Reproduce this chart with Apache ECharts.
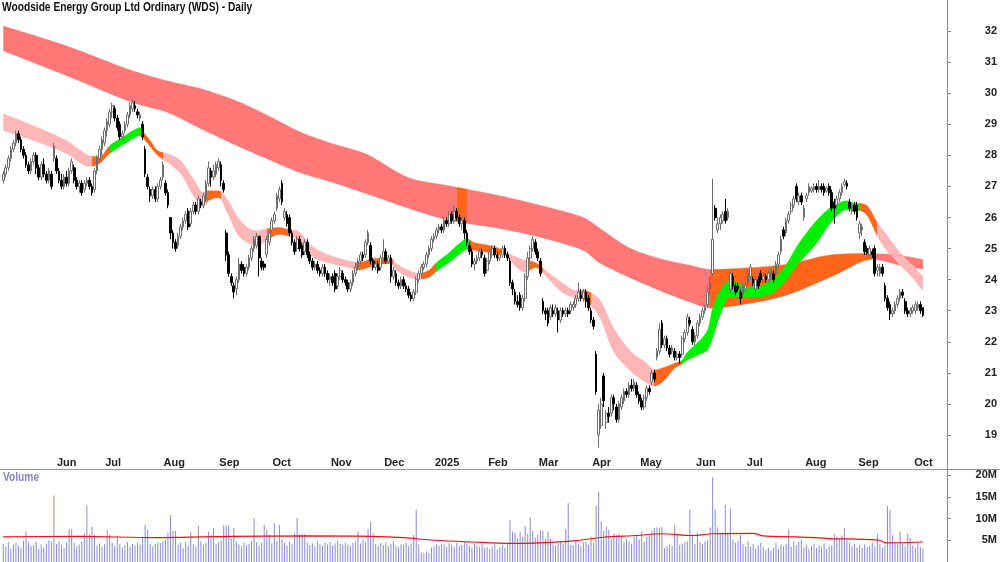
<!DOCTYPE html>
<html>
<head>
<meta charset="utf-8">
<title>WDS Daily</title>
<script src="https://cdn.jsdelivr.net/npm/echarts@6/dist/echarts.min.js"></script>
<style>
html, body { margin: 0; padding: 0; background: #fff; }
#wdschart { width: 1000px; height: 562px; }
</style>
</head>
<body>
<div id="wdschart"></div>
<script>
"use strict";

// ---- data ----
var firstDay = '2024-05-06';
var holidays = ['2024-06-10', '2024-12-25', '2024-12-26', '2025-01-01', '2025-01-27',
    '2025-04-18', '2025-04-21', '2025-04-25', '2025-06-09'];
var padDays = 9; // empty slots right of the last candle

// [open, close, low, high]
var candles = [
    [27.2,27.4,27.1,27.5],[27.4,27.6,27.3,27.7],[27.6,27.9,27.5,28.0],[27.9,28.2,27.8,28.3],[28.2,28.4,28.1,28.5],
    [28.4,28.7,28.3,28.8],[28.7,28.5,28.4,28.8],[28.5,28.2,28.1,28.6],[28.2,28.0,27.9,28.3],[28.0,27.7,27.6,28.1],
    [27.7,27.5,27.4,27.8],[27.5,27.8,27.4,27.9],[27.8,28.0,27.7,28.1],[28.0,27.6,27.4,28.1],[27.6,27.3,27.2,27.7],
    [27.3,27.7,27.2,27.8],[27.7,27.4,27.3,27.9],[27.4,27.2,27.1,27.5],[27.2,27.5,27.1,27.6],[27.4,27.0,26.9,27.5],
    [27.9,28.3,27.8,28.4],[27.9,27.5,27.4,28.0],[27.5,27.2,27.1,27.6],[27.2,27.0,26.9,27.4],[27.0,27.3,26.9,27.4],
    [27.3,27.1,27.0,27.5],[27.1,27.5,27.0,27.6],[27.5,27.8,27.4,27.9],[27.6,27.2,27.1,27.7],[27.2,27.0,26.9,27.3],
    [27.0,27.1,26.8,27.2],[27.1,26.8,26.7,27.2],[26.9,27.1,26.8,27.2],[27.1,27.2,27.0,27.3],[27.2,27.0,26.9,27.3],
    [27.0,26.8,26.7,27.1],[26.9,27.5,26.8,27.6],[27.5,27.9,27.4,28.0],[27.9,28.2,27.8,28.3],[28.2,28.5,28.0,28.6],
    [28.4,28.8,28.3,28.9],[28.8,29.1,28.6,29.2],[29.0,29.4,28.9,29.5],[29.4,29.6,29.2,29.7],[29.5,29.2,29.1,29.6],
    [29.2,28.9,28.8,29.3],[29.0,28.6,28.5,29.1],[28.6,28.7,28.5,28.8],[28.8,29.0,28.7,29.1],[29.0,29.3,28.9,29.4],
    [29.3,29.6,29.2,29.7],[29.5,29.7,29.4,29.8],[29.6,29.5,29.4,29.75],[29.4,29.3,29.2,29.5],[29.2,29.3,29.1,29.4],
    [29.0,28.6,28.5,29.1],[28.2,27.4,27.3,28.3],[27.3,27.0,26.9,27.4],[26.9,26.7,26.5,27.0],[26.7,26.9,26.6,27.0],
    [26.9,26.6,26.5,27.0],[26.6,27.0,26.5,27.1],[27.0,27.2,26.9,27.3],[27.3,27.7,27.2,27.8],[27.1,26.8,26.7,27.2],
    [26.8,26.4,26.3,26.9],[26.0,25.5,25.3,26.0],[25.5,25.2,25.0,25.6],[25.2,25.0,24.9,25.3],[25.1,25.4,25.0,25.5],
    [25.4,25.7,25.3,25.8],[25.7,25.9,25.6,26.0],[25.9,26.1,25.8,26.2],[26.2,25.7,25.6,26.3],[25.8,26.2,25.7,26.3],
    [26.2,26.4,26.1,26.5],[26.4,26.2,26.1,26.5],[26.2,26.6,26.1,26.7],[26.5,26.4,26.3,26.6],[26.4,26.7,26.3,26.8],
    [26.6,27.1,26.5,27.2],[27.1,27.6,27.0,27.8],[27.5,27.3,27.0,27.6],[27.3,27.5,27.2,27.7],[27.4,27.7,27.3,27.8],
    [27.6,27.8,27.5,27.9],[27.7,27.2,27.0,27.8],[27.1,26.9,26.8,27.2],[25.5,24.8,24.6,25.6],[24.8,24.2,24.1,24.9],
    [24.1,23.9,23.8,24.2],[23.8,23.6,23.4,23.9],[23.7,24.0,23.5,24.1],[24.0,24.5,23.9,24.7],[24.5,24.3,24.2,24.6],
    [24.4,24.2,24.1,24.5],[24.2,24.4,24.1,24.5],[24.4,24.7,24.3,24.8],[24.7,25.0,24.6,25.1],[25.0,25.3,24.9,25.4],
    [25.1,25.4,25.0,25.5],[25.4,24.7,24.1,25.4],[24.6,24.4,24.3,24.7],[24.5,24.4,24.3,24.6],[24.8,25.3,24.7,25.4],
    [25.2,25.5,25.1,25.6],[25.6,25.9,25.5,26.0],[25.9,26.1,25.8,26.2],[26.3,26.7,26.2,26.8],[26.6,26.9,26.5,27.0],
    [27.1,26.5,26.4,27.2],[26.0,26.2,25.9,26.3],[26.1,25.8,25.7,26.2],[26.0,25.5,25.4,26.1],[25.5,25.2,25.1,25.6],
    [25.2,24.9,24.8,25.3],[25.0,25.3,24.9,25.4],[25.3,25.0,24.9,25.4],[25.1,24.8,24.7,25.2],[24.9,25.2,24.8,25.3],
    [25.2,24.8,24.7,25.3],[24.8,24.6,24.5,24.9],[24.6,24.4,24.3,24.7],[24.4,24.5,24.3,24.6],[24.5,24.3,24.2,24.6],
    [24.3,24.2,24.1,24.4],[24.2,24.4,24.1,24.5],[24.4,24.2,24.1,24.5],[24.2,24.0,23.9,24.3],[24.0,24.1,23.8,24.2],
    [24.1,23.9,23.8,24.2],[24.2,23.7,23.6,24.3],[23.8,24.1,23.7,24.2],[24.1,24.3,24.0,24.4],[24.2,24.0,23.9,24.3],
    [24.0,23.9,23.8,24.1],[23.9,23.7,23.6,24.0],[23.7,23.9,23.6,24.0],[23.9,24.2,23.8,24.3],[24.2,24.4,24.1,24.5],
    [24.4,24.6,24.3,24.7],[24.6,24.8,24.5,24.9],[24.8,24.7,24.6,24.9],[24.8,25.2,24.7,25.3],[25.2,25.5,25.1,25.6],
    [25.1,24.6,24.5,25.2],[24.6,24.4,24.3,24.7],[24.4,24.5,24.3,24.6],[24.5,24.3,24.2,24.6],[24.4,24.7,24.3,24.8],
    [24.7,24.9,24.6,25.3],[24.9,24.6,24.5,25.0],[24.6,24.7,24.5,24.8],[24.7,24.1,23.9,24.8],[24.1,24.3,24.0,24.4],
    [24.2,23.9,23.8,24.3],[23.9,23.8,23.7,24.0],[23.8,24.0,23.7,24.1],[24.0,23.8,23.7,24.1],[23.8,23.7,23.6,23.9],
    [23.7,23.5,23.4,23.8],[23.5,23.4,23.3,23.6],[23.4,23.6,23.3,23.7],[23.6,24.0,23.5,24.1],[24.0,24.2,23.9,24.3],
    [24.2,24.4,24.1,24.5],[24.4,24.5,24.3,24.6],[24.5,24.8,24.4,24.9],[24.8,25.0,24.7,25.1],[25.0,25.3,24.9,25.4],
    [25.3,25.4,25.2,25.5],[25.4,25.6,25.3,25.7],[25.6,25.7,25.5,25.8],[25.7,25.6,25.5,25.8],[25.6,25.9,25.5,26.0],
    [25.9,25.8,25.7,26.0],[25.8,26.1,25.7,26.2],[26.1,25.9,25.8,26.2],[25.9,26.2,25.8,26.4],[26.2,26.0,25.9,26.3],
    [26.0,25.8,25.7,26.1],[25.8,25.9,25.6,26.0],[25.9,25.5,25.3,26.0],[25.5,25.2,25.1,25.6],[25.1,24.9,24.8,25.2],
    [24.9,24.5,24.4,25.0],[24.5,24.6,24.3,24.7],[24.6,24.7,24.5,24.8],[24.7,24.9,24.6,25.0],[24.9,24.8,24.7,25.0],
    [24.7,24.2,24.1,24.8],[24.3,24.6,24.2,24.7],[24.6,24.9,24.5,25.0],[24.8,25.0,24.7,25.1],[25.0,24.8,24.7,25.1],
    [24.8,24.7,24.6,24.9],[24.7,24.8,24.6,24.9],[24.8,25.0,24.7,25.1],[25.0,24.8,24.7,25.1],[24.8,24.7,24.6,24.9],
    [24.6,23.9,23.8,24.7],[23.9,23.7,23.5,24.0],[23.6,23.3,23.2,23.7],[23.3,23.2,23.1,23.5],[23.5,23.1,23.0,23.6],
    [23.1,23.4,23.0,23.5],[23.4,24.1,23.3,24.2],[24.1,24.7,24.0,24.9],[24.7,25.0,24.6,25.1],[25.0,25.3,24.9,25.4],
    [25.2,24.9,24.8,25.3],[24.9,24.7,24.6,25.0],[24.6,24.2,24.1,24.7],[23.3,23.0,22.9,23.4],[23.0,22.9,22.7,23.1],
    [23.0,22.6,22.5,23.1],[22.8,23.1,22.7,23.2],[23.0,22.9,22.8,23.2],[22.9,23.1,22.8,23.2],[23.0,22.7,22.3,23.1],
    [22.7,23.0,22.6,23.1],[23.0,22.9,22.8,23.1],[22.9,23.0,22.8,23.1],[23.0,22.9,22.8,23.1],[23.0,23.2,22.9,23.3],
    [23.1,23.2,23.0,23.3],[23.2,23.4,23.1,23.5],[23.4,23.6,23.3,23.9],[23.5,23.4,23.3,23.7],[23.4,23.6,23.3,23.7],
    [23.6,23.3,23.1,23.7],[23.4,23.1,23.0,23.5],[23.0,22.7,22.6,23.1],[22.7,22.5,22.4,22.8],[21.6,20.4,20.3,21.7],
    [19.0,19.8,18.6,20.0],[19.3,20.0,19.2,20.2],[20.9,20.1,19.9,21.0],[19.4,19.7,19.2,19.8],[19.7,19.6,19.4,19.9],
    [19.7,20.2,19.6,20.3],[20.2,20.0,19.8,20.3],[19.9,19.5,19.4,20.0],[19.5,20.0,19.4,20.1],[19.9,20.2,19.8,20.3],
    [20.1,20.4,20.0,20.5],[20.4,20.3,20.2,20.5],[20.3,20.6,20.2,20.7],[20.6,20.5,20.4,20.8],[20.5,20.7,20.4,20.8],
    [20.6,20.3,20.2,20.7],[20.3,20.1,20.0,20.4],[20.1,19.9,19.8,20.2],[19.9,20.2,19.8,20.3],[20.2,20.5,20.1,20.6],
    [20.5,20.4,20.3,20.6],[20.7,21.0,20.6,21.1],[21.0,20.8,20.7,21.1],[21.5,21.7,21.4,21.8],[21.7,22.4,21.6,22.6],
    [22.6,21.9,21.8,22.7],[21.9,22.1,21.8,22.2],[22.1,21.8,21.7,22.2],[21.8,21.6,21.5,21.9],[21.7,21.8,21.6,21.9],
    [21.7,21.5,21.4,21.8],[21.5,21.6,21.4,21.7],[21.6,21.5,21.3,21.7],[21.6,22.1,21.5,22.2],[22.1,22.3,22.0,22.4],
    [22.3,22.8,22.2,22.9],[22.7,22.6,22.5,22.8],[22.4,22.0,21.9,22.5],[22.0,22.2,21.9,22.3],[22.2,22.6,22.1,22.7],
    [22.6,22.8,22.5,22.9],[22.8,23.0,22.7,23.1],[23.0,23.1,22.9,23.2],[23.2,23.6,23.1,23.8],[23.7,23.9,23.5,24.1],
    [24.2,25.3,24.1,27.25],[26.3,26.0,25.9,26.4],[25.6,25.8,25.5,26.0],[25.8,26.0,25.6,26.1],[25.9,26.1,25.8,26.2],
    [26.2,25.9,25.8,26.6],[26.0,26.2,25.9,26.3],[23.7,24.2,23.6,24.3],[24.1,23.8,23.7,24.2],[23.8,23.6,23.5,23.9],
    [23.8,23.7,23.6,23.9],[23.6,23.4,23.2,23.7],[23.5,23.8,23.4,23.9],[23.7,23.8,23.6,23.9],[23.9,24.2,23.8,24.3],
    [24.1,24.4,24.0,24.5],[24.0,23.9,23.8,24.1],[23.7,24.0,23.5,24.1],[24.0,23.8,23.7,24.1],[24.2,24.0,23.9,24.3],
    [24.0,24.1,23.9,24.2],[24.1,24.0,23.9,24.2],[24.0,24.2,23.9,24.3],[24.1,24.3,24.0,24.4],[24.2,24.0,23.9,24.3],
    [24.2,24.5,24.1,24.6],[24.5,24.8,24.4,24.9],[24.9,25.3,24.8,25.4],[25.6,25.4,25.3,25.7],[25.5,25.9,25.4,26.0],
    [25.9,26.1,25.8,26.2],[26.2,26.4,26.1,26.5],[26.4,26.6,26.3,26.7],[27.0,26.6,26.5,27.1],[26.5,26.7,26.4,26.8],
    [26.7,26.5,26.4,26.8],[26.0,26.3,25.9,26.4],[26.6,26.7,26.5,26.8],[26.8,27.0,26.7,27.1],[26.85,26.95,26.8,27.0],
    [26.9,27.0,26.8,27.1],[27.0,26.9,26.8,27.1],[26.9,27.0,26.8,27.2],[27.0,26.9,26.8,27.1],[27.0,26.8,26.7,27.1],
    [26.85,26.95,26.8,27.0],[27.0,26.8,26.7,27.1],[26.8,26.3,26.2,26.9],[26.5,26.3,25.8,26.6],[26.4,26.6,26.3,26.7],
    [26.6,26.8,26.5,26.9],[26.8,27.0,26.7,27.1],[27.05,27.15,27.0,27.25],[27.1,27.0,26.9,27.2],[26.5,26.3,26.2,26.6],
    [26.2,26.4,26.1,26.5],[26.4,26.2,26.1,26.5],[26.4,26.0,25.9,26.5],[25.5,25.8,25.3,25.9],[25.6,25.7,25.4,25.8],
    [25.2,24.9,24.8,25.3],[25.0,24.85,24.8,25.1],[24.8,25.0,24.7,25.1],[24.9,24.8,24.7,25.0],[25.0,24.2,24.1,25.1],
    [24.3,24.4,24.1,24.5],[24.2,24.4,24.1,24.5],[24.4,24.2,24.1,24.5],[23.8,23.4,23.3,23.9],[23.4,23.1,23.0,23.5],
    [23.2,22.9,22.7,23.3],[22.9,23.0,22.8,23.1],[23.0,23.2,22.9,23.3],[23.2,23.4,23.1,23.5],[23.4,23.6,23.3,23.7],
    [23.6,23.5,23.4,23.7],[23.3,23.0,22.9,23.4],[23.0,22.9,22.8,23.1],[22.9,23.0,22.8,23.1],[23.0,23.1,22.9,23.2],
    [23.0,23.2,22.9,23.3],[23.1,23.2,23.0,23.3],[23.2,23.0,22.9,23.3],[23.1,22.85,22.8,23.1]
];

// volume in millions
var volumes = [
    4.2,3.5,4.6,3.1,4.0,4.4,3.8,3.2,4.9,7.0,  4.5,3.6,3.9,4.8,3.0,4.1,3.4,4.3,5.0,4.6,
    15.3,4.2,4.7,3.9,3.3,4.5,7.6,7.5,4.4,3.6,  4.0,4.6,6.6,13.0,6.4,8.1,6.2,3.8,4.3,3.5,
    4.1,7.4,6.2,4.5,3.7,6.0,4.2,3.4,3.9,4.6,  3.5,4.2,3.8,4.4,4.0,5.5,8.5,7.4,4.1,3.6,
    4.2,4.5,4.3,4.8,5.2,6.8,10.8,7.2,7.2,3.9,  4.4,3.2,4.6,3.8,7.0,4.1,3.5,8.4,4.8,3.9,
    4.5,7.0,6.2,7.8,4.2,4.6,5.0,8.4,8.4,8.4,  5.3,7.8,4.7,4.0,3.6,4.4,3.9,4.2,4.8,10.0,
    4.6,3.8,4.4,8.5,7.5,6.2,4.3,9.0,4.9,8.5,  5.2,4.4,3.8,4.6,4.1,6.6,10.1,6.4,6.4,6.4,
    4.5,3.9,4.3,3.6,4.8,4.1,3.7,4.4,4.0,4.6,  3.8,4.3,4.9,4.2,3.9,4.5,4.0,3.7,4.4,4.8,
    7.0,4.3,5.1,4.6,7.5,9.3,6.6,4.2,3.8,4.4,  3.9,4.5,3.6,4.2,4.7,3.8,3.4,4.1,3.9,4.4,
    3.7,4.3,6.2,12.1,4.0,2.2,2.0,2.4,2.1,3.3,  3.6,4.0,3.8,4.2,4.1,3.5,4.3,4.0,3.4,4.4,
    3.7,3.9,4.5,4.2,3.6,3.3,4.3,3.8,3.5,4.1,  3.2,3.4,3.0,3.6,4.2,2.9,3.5,3.9,3.3,4.0,
    9.6,7.0,6.8,5.4,7.0,5.8,8.2,6.5,10.3,7.2,  5.6,6.4,7.3,7.2,5.2,7.0,5.4,4.0,3.8,4.3,
    4.6,4.1,7.5,13.6,4.0,3.8,5.0,4.2,3.6,4.5,  4.8,3.9,5.8,4.4,12.9,16.2,9.4,7.2,8.1,7.4,
    5.4,6.5,6.2,6.5,6.0,4.5,5.3,4.7,4.2,5.8,  6.0,5.1,7.0,4.6,5.8,6.1,7.2,7.8,8.0,7.9,
    8.1,3.2,3.6,3.9,3.7,8.5,6.3,4.0,4.2,4.6,  4.8,12.0,6.4,4.2,6.8,4.6,4.1,4.8,5.0,8.0,
    19.5,12.1,8.0,6.6,6.8,13.1,6.6,12.3,5.2,4.4,  4.9,6.2,4.1,3.6,4.8,3.5,4.2,3.1,3.8,4.4,
    3.4,2.8,3.2,2.6,3.3,4.5,3.0,4.0,3.6,4.2,  7.5,3.5,4.8,3.9,4.6,5.2,3.4,4.0,3.1,3.7,
    4.2,3.3,3.8,3.5,4.3,3.0,3.6,3.8,6.5,5.8,  5.4,6.1,7.8,5.2,4.4,3.6,4.1,3.4,3.9,3.2,
    4.0,3.5,3.7,4.4,3.6,6.5,4.2,3.4,3.8,12.9,  12.0,6.2,4.5,4.0,7.0,4.2,3.6,6.5,5.5,3.8,
    3.2,4.4,3.5,3.1
];

// volume average line, [candle index, millions]
var volumeAvg = [[0,5.8],[30,5.9],[60,5.6],[90,5.9],[120,6.0],[145,5.9],[158,5.6],[170,5.0],
    [185,4.6],[200,4.3],[212,4.4],[226,4.9],[237,5.7],[250,6.1],[260,6.5],[272,6.1],[280,6.5],
    [296,6.6],[300,6.0],[313,5.8],[326,5.4],[333,5.3],[346,5.0],[348,4.4],[363,4.6]];

// ribbons, [candle index, upper edge, lower edge]
var slowBand = [[0,32.16,31.36],[25,31.52,30.56],[51,30.72,29.69],[65,30.39,29.37],[78,30.14,28.85],
    [93,29.72,28.28],[104,29.30,27.89],[117,28.76,27.44],[129,28.40,27.15],[143,28.05,26.77],
    [160,27.28,26.29],[176,27.02,25.90],[196,26.70,25.64],[209,26.45,25.42],[229,26.00,24.94],
    [235,25.68,24.55],[247,25.03,24.07],[259,24.68,23.65],[271,24.46,23.27],[279,24.33,23.08],
    [290,24.36,23.17],[309,24.49,23.49],[328,24.81,24.13],[343,24.84,24.65],[354,24.78,24.46],
    [363,24.65,24.33]];

var fastBand = [[0,29.34,28.79],[12,28.95,28.47],[25,28.47,28.05],[34,27.99,27.63],[38,27.96,27.73],
    [42,28.31,28.05],[48,28.63,28.37],[51,28.79,28.53],[54,28.89,28.63],[55,28.79,28.57],[58,28.47,28.28],
    [61,28.15,27.99],[65,28.05,27.76],[70,27.83,27.41],[75,27.25,26.70],[79,26.80,26.35],[81,26.86,26.54],
    [85,26.86,26.64],[88,26.64,26.22],[93,25.96,25.39],[97,25.64,25.16],[100,25.58,25.07],[104,25.64,25.26],
    [109,25.68,25.45],[113,25.61,25.39],[116,25.58,25.32],[122,25.07,24.74],[129,24.78,24.52],
    [136,24.62,24.39],[140,24.55,24.30],[147,24.68,24.46],[153,24.68,24.52],[155,24.52,24.30],
    [160,24.30,24.07],[164,24.20,24.01],[168,24.30,24.07],[171,24.55,24.26],[176,24.87,24.55],
    [180,25.16,24.81],[183,25.32,24.97],[186,25.19,24.94],[192,25.10,24.87],[197,24.97,24.81],
    [199,24.87,24.71],[203,24.71,24.36],[206,24.62,24.23],[210,24.55,24.39],[215,24.23,24.04],
    [221,23.88,23.56],[226,23.65,23.40],[229,23.65,23.36],[235,23.40,22.85],[241,22.43,21.66],
    [248,21.66,21.02],[254,21.31,20.67],[257,21.09,20.57],[261,21.18,20.76],[265,21.31,21.15],
    [268,21.41,21.28],[270,21.66,21.41],[275,22.05,21.60],[278,22.37,21.73],[280,23.08,22.11],
    [283,23.65,22.85],[287,23.97,23.43],[294,23.75,23.43],[302,23.91,23.49],[308,24.36,23.88],
    [314,25.16,24.52],[321,25.90,25.16],[327,26.35,25.87],[333,26.54,26.25],[336,26.45,26.22],
    [338,26.45,26.22],[341,26.38,26.06],[345,25.84,25.39],[348,25.52,25.00],[354,24.87,24.46],
    [359,24.46,24.04],[363,24.10,23.65]];

var RED = '#ff7878', ORANGE = '#ff661c', PINK = '#ffb6b6', GREEN = '#00f000';

// colour runs along the ribbons, [from index, to index, colour]
var slowColours = [[0,179,RED],[179,183,ORANGE],[183,279,RED],[279,343,ORANGE],[343,400,RED]];
var fastColours = [[0,35.4,PINK],[35.4,41.9,ORANGE],[41.9,55,GREEN],[55,63,ORANGE],[63,79.5,PINK],
    [79.5,86,ORANGE],[86,103.5,PINK],[103.5,113,ORANGE],[113,139,PINK],[139,153.5,ORANGE],
    [153.5,165,PINK],[165,171,ORANGE],[171,184,GREEN],[184,197,ORANGE],[197,206.5,PINK],
    [206.5,212.5,ORANGE],[212.5,226.5,PINK],[226.5,232,ORANGE],[232,257,PINK],[257,267.5,ORANGE],
    [267.5,337.5,GREEN],[337.5,345,ORANGE],[345,400,PINK]];

var priceTicks = [19,20,21,22,23,24,25,26,27,28,29,30,31,32];
var volumeTicks = [5,10,15,20];
var monthNames = ['2025','Feb','Mar','Apr','May','Jun','Jul','Aug','Sep','Oct','Nov','Dec'];

var FONT = '"Liberation Sans", Arial, sans-serif';

// ---- trading calendar ----
function tradingDays(start, count) {
    var out = [];
    var d = new Date(start + 'T00:00:00Z');
    while (out.length < count) {
        var iso = d.toISOString().slice(0, 10);
        var wd = d.getUTCDay();
        if (wd !== 0 && wd !== 6 && holidays.indexOf(iso) < 0) {
            out.push(iso);
        }
        d.setUTCDate(d.getUTCDate() + 1);
    }
    return out;
}

var dates = tradingDays(firstDay, candles.length);
var categories = dates.slice();
for (var p = 1; p <= padDays; p++) {
    categories.push('pad' + p);
}

function isMonthStart(index) {
    return index > 0 && index < dates.length &&
        dates[index].slice(0, 7) !== dates[index - 1].slice(0, 7);
}

function monthLabel(value, index) {
    if (!isMonthStart(index)) return '';
    var m = +dates[index].slice(5, 7) - 1;
    if (m === 0) return dates[index].slice(0, 4);
    return monthNames[m];
}

function bandSeries(band, stackName) {
    return [{
        type: 'line',
        stack: stackName,
        data: band.map(function (b) { return [b[0], b[2]]; }),
        smooth: 0.3,
        symbol: 'none',
        lineStyle: { opacity: 0 },
        silent: true,
        z: 1
    }, {
        type: 'line',
        stack: stackName,
        data: band.map(function (b) { return [b[0], +(b[1] - b[2]).toFixed(3)]; }),
        smooth: 0.3,
        symbol: 'none',
        lineStyle: { width: 0.4 },
        areaStyle: { opacity: 1 },
        silent: true,
        z: 1
    }];
}

function colourPieces(runs) {
    return runs.map(function (r) {
        return { gte: r[0], lt: r[1], color: r[2] };
    });
}

function getChart(id) {
    var dom = document.getElementById(id);
    return echarts.init(dom, null, { renderer: 'canvas' });
}

var wds = getChart('wdschart');

var series = [].concat(
    bandSeries(slowBand, 'slow'),
    bandSeries(fastBand, 'fast'),
    [{
        type: 'candlestick',
        data: candles,
        barWidth: 2.2,
        itemStyle: {
            color: '#ffffff',
            color0: '#000000',
            borderColor: '#6e6e6e',
            borderColor0: '#000000',
            borderWidth: 1
        },
        z: 3
    }, {
        type: 'bar',
        xAxisIndex: 1,
        yAxisIndex: 1,
        data: volumes,
        barWidth: 1,
        itemStyle: { color: '#8b8bd2' },
        silent: true
    }, {
        type: 'line',
        xAxisIndex: 1,
        yAxisIndex: 1,
        data: volumeAvg,
        smooth: 0.3,
        symbol: 'none',
        lineStyle: { color: '#ee1111', width: 1.2 },
        silent: true,
        z: 3
    }]
);

var option = {
    animation: false,
    backgroundColor: '#ffffff',
    grid: [
        { left: 2, right: 52, top: -1.15, height: 467.25 },
        { left: 2, right: 52, top: 453.33, height: 113.33 },
        { left: 2, right: 52, top: 455, height: 14 }
    ],
    xAxis: [
        { type: 'category', gridIndex: 0, data: categories, boundaryGap: true, show: false },
        { type: 'category', gridIndex: 1, data: categories, boundaryGap: true, show: false },
        {
            type: 'category', gridIndex: 2, data: categories, boundaryGap: true, position: 'top',
            axisLine: { lineStyle: { color: '#9a9a9a', width: 1 } },
            axisTick: { inside: true, length: 3, alignWithLabel: true, interval: isMonthStart,
                lineStyle: { color: '#777' } },
            axisLabel: { inside: true, interval: isMonthStart, formatter: monthLabel, align: 'left',
                padding: [0, 0, 0, 3], margin: 2, fontSize: 11, fontWeight: 'bold', color: '#222',
                fontFamily: FONT },
            splitLine: { show: false }
        }
    ],
    yAxis: [{
        type: 'value', gridIndex: 0, position: 'right', min: 18, max: 33,
        axisLine: { show: true, lineStyle: { color: '#8a8a8a' } },
        axisTick: { show: true, length: 4, customValues: priceTicks, lineStyle: { color: '#8a8a8a' } },
        axisLabel: { customValues: priceTicks, align: 'right', margin: 50, fontSize: 11,
            fontWeight: 'bold', color: '#222', fontFamily: FONT },
        splitLine: { show: false }
    }, {
        type: 'value', gridIndex: 1, position: 'right', min: 0, max: 25,
        axisLine: { show: true, lineStyle: { color: '#8a8a8a' } },
        axisTick: { show: true, length: 4, customValues: volumeTicks, lineStyle: { color: '#8a8a8a' } },
        axisLabel: { customValues: volumeTicks, align: 'right', margin: 50, fontSize: 11,
            fontWeight: 'bold', color: '#222', fontFamily: FONT,
            formatter: function (v) { return v + 'M'; } },
        splitLine: { show: false }
    }, {
        type: 'value', gridIndex: 2, show: false
    }],
    visualMap: [{
        type: 'piecewise', show: false, seriesIndex: 1, dimension: 0,
        pieces: colourPieces(slowColours)
    }, {
        type: 'piecewise', show: false, seriesIndex: 3, dimension: 0,
        pieces: colourPieces(fastColours)
    }],
    graphic: [{
        type: 'text',
        x: 2,
        y: 2,
        scaleX: 0.85,
        style: { text: 'Woodside Energy Group Ltd Ordinary (WDS) - Daily', fill: '#111',
            font: 'bold 12px ' + FONT },
        silent: true
    }, {
        type: 'line',
        shape: { x1: 0, y1: 469.5, x2: 1000, y2: 469.5 },
        style: { stroke: '#8a8a8a', lineWidth: 1 },
        silent: true
    }, {
        type: 'text',
        x: 3,
        y: 472,
        scaleX: 0.85,
        style: { text: 'Volume', fill: '#8585c4', font: 'bold 12px ' + FONT },
        silent: true
    }],
    series: series
};

if (option && typeof option === "object") {
    wds.setOption(option, true);
}
window.addEventListener('resize', function () {
    wds.resize();
});
</script>
</body>
</html>
